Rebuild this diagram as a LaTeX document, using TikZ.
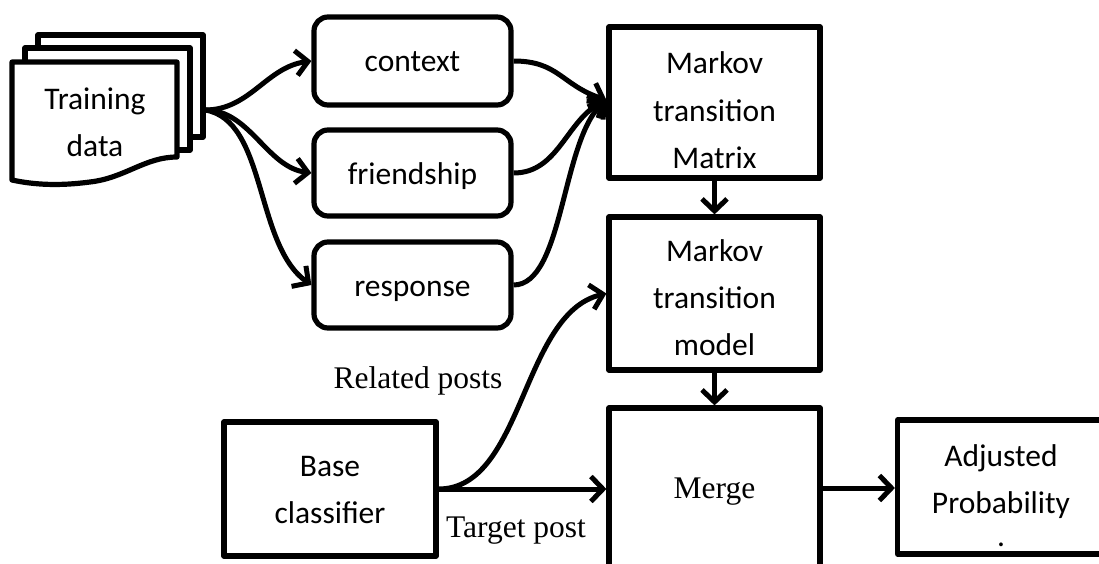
\documentclass[tikz,border=0pt]{standalone}
\usepackage{fontspec}
\setmainfont{Carlito}
\newfontfamily\serifface{Liberation Serif}
\usetikzlibrary{arrows.meta}
\begin{document}
\begin{tikzpicture}[x=1pt, y=-1pt, line width=5.2pt, line join=round,
  box/.style={draw, line width=5.2pt, fill=white, inner sep=0pt},
  rbox/.style={box, rounded corners=14pt},
  sans/.style={font=\fontsize{31.5}{47}\selectfont, align=center},
  serif/.style={font=\serifface\fontsize{31.5}{38}\selectfont},
  arr/.style={-{Straight Barb[length=12pt,width=25pt]}, line width=5pt},
]
\useasboundingbox (0,0) rectangle (1099,564);

% stacked pages of the training data
\draw[fill=white] (38,35) rectangle (203,137);
\draw[fill=white] (25,48) rectangle (190,150);
\draw[fill=white] (12,62) -- (177,62) -- (177,157)
  .. controls (145,157) and (125,178) .. (90,182)
  .. controls (60,186) and (35,185) .. (12,180) -- cycle;
\node[sans, anchor=base] (tdtxt) at (95,157) {Training\\data};
\coordinate (td) at (205,110);

% feature boxes
\node[rbox, sans, minimum width=197pt, minimum height=88pt,
      text height=22pt, text depth=0pt] (ctx) at (412.5,61) {context};
\node[rbox, sans, minimum width=197pt, minimum height=86pt,
      text height=22pt, text depth=0pt] (frd) at (412.5,173) {friendship};
\node[rbox, sans, minimum width=197pt, minimum height=86pt,
      text height=22pt, text depth=0pt] (rsp) at (412.5,285) {response};

% Markov chain boxes
\node[box, sans, minimum width=211pt, minimum height=151pt,
      text height=131pt, text depth=0pt] (mtm) at (714.5,102.5) {Markov\\transition\\Matrix};
\node[box, sans, minimum width=211pt, minimum height=153pt,
      text height=123pt, text depth=0pt] (mdl) at (714.5,293.5) {Markov\\transition\\model};
\node[box, serif, minimum width=211pt, minimum height=160pt,
      text height=20pt, text depth=0pt] (mrg) at (714.5,488) {Merge};
\node[box, sans, minimum width=212pt, minimum height=134pt,
      text height=68pt, text depth=0pt] (base) at (330,489) {Base\\classifier};
\node[box, sans, minimum width=207pt, minimum height=134pt,
      text height=118pt, text depth=0pt] (adj) at (1001,487) {Adjusted\\Probability\\[-14pt].};

% connectors
\draw[arr] (td) .. controls +(45,0) and +(-45,6) .. (ctx.west);
\draw[arr] (td) .. controls +(45,0) and +(-45,-6) .. (frd.west);
\draw[arr] (td) .. controls +(62,10) and +(-57,-40) .. (rsp.west);
\draw[arr] (ctx.east) .. controls +(45,0) and +(-45,-15) .. ([yshift=2.5pt]mtm.west);
\draw[arr] (frd.east) .. controls +(45,0) and +(-40,20) .. ([yshift=2.5pt]mtm.west);
\draw[arr] (rsp.east) .. controls +(50,0) and +(-45,40) .. ([yshift=2.5pt]mtm.west);
\draw[arr] (mtm.south) -- (mdl.north);
\draw[arr] (mdl.south) -- (mrg.north);
\draw[arr] (base.east) .. controls +(85,0) and +(-85,20) .. (mdl.west);
\draw[arr] (base.east) -- (base.east -| mrg.west);
\draw[arr] (mrg.east) -- (mrg.east -| adj.west);

% connector labels
\node[serif, anchor=base] (relp) at (418,388) {Related posts};
\node[serif, anchor=base] (tgtp) at (516,537) {Target post};
\end{tikzpicture}
\end{document}
